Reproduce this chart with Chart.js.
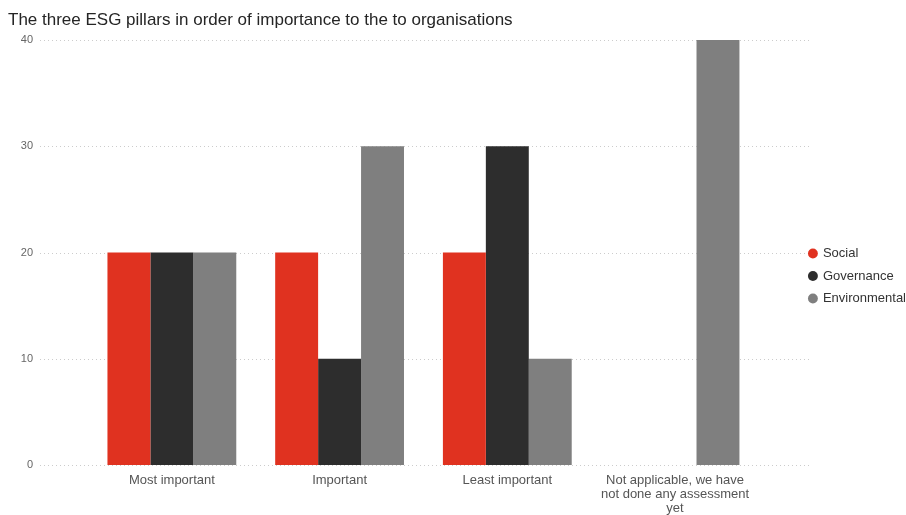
<!DOCTYPE html>
<html>
<head>
<meta charset="utf-8">
<script src="https://cdn.jsdelivr.net/npm/chart.js@4"></script>
<style>
  html, body { margin: 0; padding: 0; background: #fff; }
  #wrap { width: 906px; height: 515px; }
</style>
</head>
<body>
<div id="wrap"><canvas id="myChart" width="906" height="515"></canvas></div>
<script>
var categories = [
    "Most important",
    "Important",
    "Least important",
    ["Not applicable, we have", "not done any assessment", "yet"]
];
var social = [20, 20, 20, null];
var governance = [20, 10, 30, null];
var environmental = [20, 30, 10, 40];
var yTicks = [0, 10, 20, 30, 40];

var FONT = "'Liberation Sans', Arial, sans-serif";

// dotted horizontal gridlines that run past the plot area on both sides
var dottedGrid = {
    id: 'dottedGrid',
    beforeDraw: function (chart) {
        var c = chart.ctx, y = chart.scales.y;
        c.save();
        c.strokeStyle = '#cccccc';
        c.lineWidth = 1;
        c.setLineDash([1, 3]);
        yTicks.forEach(function (v) {
            var py = Math.round(y.getPixelForValue(v)) + 0.5;
            c.beginPath();
            c.moveTo(40, py);
            c.lineTo(812, py);
            c.stroke();
        });
        c.restore();
    }
};

// nudge the legend block down a little
var legendShift = {
    id: 'legendShift',
    afterLayout: function (chart) {
        chart.legend.top += 14;
        chart.legend.bottom += 14;
    }
};

var ctx = document.getElementById('myChart').getContext('2d');
var chart = new Chart(ctx, {
    type: 'bar',
    data: {
        labels: categories,
        datasets: [
            { label: "Social", data: social, backgroundColor: '#e03220' },
            { label: "Governance", data: governance, backgroundColor: '#2d2d2d' },
            { label: "Environmental", data: environmental, backgroundColor: '#7f7f7f' }
        ]
    },
    options: {
        responsive: false,
        animation: false,
        layout: { padding: { left: 8, right: -10, top: 0, bottom: -9 } },
        datasets: {
            bar: { categoryPercentage: 0.768, barPercentage: 1.0 }
        },
        plugins: {
            title: {
                display: true,
                text: "The three ESG pillars in order of importance to the to organisations",
                align: 'start',
                color: '#252525',
                font: { family: FONT, size: 17, weight: 'normal' },
                padding: { top: 10, bottom: 9.6 }
            },
            legend: {
                position: 'right',
                align: 'center',
                labels: {
                    usePointStyle: true,
                    pointStyle: 'circle',
                    boxWidth: 7,
                    boxHeight: 7,
                    padding: 9.5,
                    color: '#333',
                    font: { family: FONT, size: 13 }
                }
            },
            tooltip: { enabled: false }
        },
        scales: {
            x: {
                grid: { display: false, drawTicks: false },
                border: { display: false },
                ticks: {
                    color: '#555',
                    font: { family: FONT, size: 13, lineHeight: 1.1 },
                    maxRotation: 0,
                    autoSkip: false,
                    padding: 8
                }
            },
            y: {
                min: 0,
                max: 40,
                afterFit: function (s) { s.width = 80; },
                afterBuildTicks: function (s) {
                    s.ticks = yTicks.map(function (v) { return { value: v }; });
                },
                grid: { display: false, drawTicks: true, tickLength: 55 },
                border: { display: false },
                ticks: {
                    color: '#666',
                    font: { family: FONT, size: 11 },
                    padding: 0
                }
            },
            y2: {
                position: 'right',
                display: true,
                afterFit: function (s) { s.width = 41; },
                grid: { display: false, drawTicks: false },
                border: { display: false },
                ticks: { display: false }
            }
        }
    },
    plugins: [dottedGrid, legendShift]
});
</script>
</body>
</html>
